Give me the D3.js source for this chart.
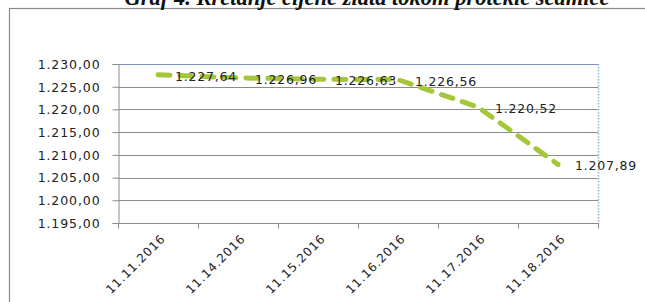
<!DOCTYPE html>
<html>
<head>
<meta charset="utf-8">
<script src="https://cdn.jsdelivr.net/npm/d3@7"></script>
<style>
  html, body { margin: 0; padding: 0; background: #fff; }
  svg { display: block; }
</style>
</head>
<body>
<script>
const categories = ["11.11.2016", "11.14.2016", "11.15.2016", "11.16.2016", "11.17.2016", "11.18.2016"];
const values = [1227.64, 1226.96, 1226.63, 1226.56, 1220.52, 1207.89];
const yTicks = [1195, 1200, 1205, 1210, 1215, 1220, 1225, 1230];
const title = "Graf 4. Kretanje cijene zlata tokom protekle sedmice";

const W = 645, H = 302;
const plot = { left: 118, right: 598, top: 64, bottom: 223 };

const fmt = v => {
  const s = v.toFixed(2);
  const [i, d] = s.split(".");
  return i.replace(/\B(?=(\d{3})+(?!\d))/g, ".") + "," + d;
};

const svg = d3.select("body").append("svg").attr("width", W).attr("height", H);

// outer frame
svg.append("rect").attr("x", 9.5).attr("y", 8.5).attr("width", 700).attr("height", 400)
  .attr("fill", "#fff").attr("stroke", "#8a8a8a").attr("stroke-width", 1.2);

// title (partially cut at top, as in the source)
svg.append("text").attr("x", 367).attr("y", 5)
  .attr("text-anchor", "middle")
  .style("font-family", "'Liberation Serif', 'DejaVu Serif', serif")
  .style("font-weight", "bold").style("font-style", "italic")
  .style("font-size", "22.5px").attr("fill", "#111")
  .text(title);

const x = d3.scaleBand().domain(categories).range([plot.left, plot.right]).padding(0);
const y = d3.scaleLinear().domain([1195, 1230]).range([plot.bottom, plot.top]);

// gridlines
svg.append("g").selectAll("line").data(yTicks.filter(t => t !== 1195 && t !== 1230)).join("line")
  .attr("x1", plot.left).attr("x2", plot.right)
  .attr("y1", d => Math.round(y(d)) + 0.5).attr("y2", d => Math.round(y(d)) + 0.5)
  .attr("stroke", "#8c8c8c").attr("stroke-width", 1);

// plot top border and right dotted border
svg.append("line").attr("x1", plot.left).attr("x2", plot.right)
  .attr("y1", plot.top + 0.5).attr("y2", plot.top + 0.5)
  .attr("stroke", "#7b93b8").attr("stroke-width", 1);
svg.append("line").attr("x1", plot.right + 0.5).attr("x2", plot.right + 0.5)
  .attr("y1", plot.top).attr("y2", plot.bottom + 4)
  .attr("stroke", "#8fb0e0").attr("stroke-width", 1.5).attr("stroke-dasharray", "1.5,1.5");

// y axis
const yAxis = d3.axisLeft(y).tickValues(yTicks).tickSize(6).tickFormat(fmt);
const gy = svg.append("g").attr("transform", `translate(${plot.left + 0.5},0)`).call(yAxis);
gy.select(".domain").attr("stroke", "#8c8c8c");
gy.selectAll(".tick line").attr("stroke", "#8c8c8c");
gy.selectAll(".tick text")
  .attr("x", -18).attr("dy", "0.35em")
  .style("font-family", "'DejaVu Sans', sans-serif").style("font-size", "12.5px")
  .style("letter-spacing", "0.9px").attr("fill", "#222");

// x axis with ticks at category boundaries
const gx = svg.append("g").attr("transform", `translate(0,${plot.bottom + 0.5})`);
gx.append("line").attr("x1", plot.left).attr("x2", plot.right + 1)
  .attr("stroke", "#8c8c8c").attr("stroke-width", 1);
const boundaries = categories.map(c => x(c)).concat([plot.right]);
gx.selectAll("line.tk").data(boundaries).join("line").attr("class", "tk")
  .attr("x1", d => d + 0.5).attr("x2", d => d + 0.5).attr("y1", 0).attr("y2", 5)
  .attr("stroke", "#8c8c8c");
gx.selectAll("text").data(categories).join("text")
  .attr("transform", d => `translate(${x(d) + x.bandwidth() / 2 + 5},${13}) rotate(-45)`)
  .attr("text-anchor", "end").attr("dy", "0.35em")
  .style("font-family", "'DejaVu Sans', sans-serif").style("font-size", "12px")
  .style("letter-spacing", "0.9px").attr("fill", "#222")
  .text(d => d);

// line
const line = d3.line().x((d, i) => x(categories[i]) + x.bandwidth() / 2).y(d => y(d));
svg.append("path").datum(values).attr("d", line)
  .attr("fill", "none").attr("stroke", "#a4c639").attr("stroke-width", 5)
  .attr("stroke-linecap", "round").attr("stroke-dasharray", "12,10");

// data labels
svg.append("g").selectAll("text").data(values).join("text")
  .attr("x", (d, i) => x(categories[i]) + x.bandwidth() / 2 + 17)
  .attr("y", d => y(d) + 6)
  .style("font-family", "'DejaVu Sans', sans-serif").style("font-size", "12.5px")
  .style("letter-spacing", "0.8px").attr("fill", "#222")
  .text(d => fmt(d));
</script>
</body>
</html>
